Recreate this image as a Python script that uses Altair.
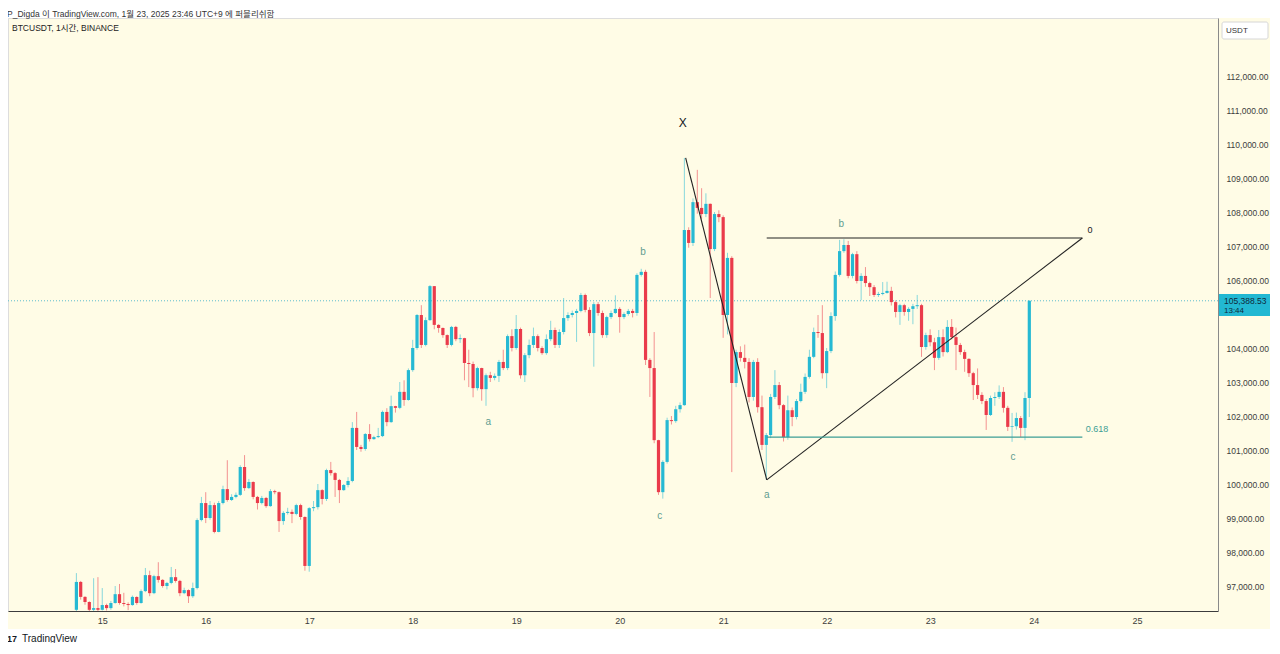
import altair as alt
import pandas as pd

# ---------------- data (BTCUSDT 1h, 14th 18:00 .. 23rd 23:00, UTC+9) ----------------
first_open = 96300
closes = [
    97120, 96680, 96530, 96300, 96350, 96300, 96440, 96350, 96500, 96760,
    96500, 96470, 96440, 96680, 96500, 96850, 97320, 96790, 97290, 97180,
    97000, 97090, 97260, 97150, 96790, 96880, 96700, 96940, 98940, 99440,
    99000, 99380, 98590, 99440, 99850, 99530, 99620, 99680, 100500, 99880,
    100060, 99620, 99440, 99590, 99350, 99790, 99760, 98910, 99150, 99180,
    99120, 99380, 99030, 97590, 99290, 99320, 99820, 99560, 100410, 100320,
    100120, 99820, 99970, 100090, 101650, 101090, 101030, 101470, 101320, 101380,
    101410, 102120, 101820, 102290, 102240, 102710, 102470, 103350, 104000, 104970,
    104090, 104820, 105820, 104680, 104590, 104380, 104090, 104620, 104260, 104290,
    103560, 103530, 102820, 103410, 102790, 103200, 103120, 103180, 103590, 103410,
    104350, 104000, 104560, 103200, 103790, 104090, 104350, 104000, 103850, 104260,
    104530, 104090, 104470, 104880, 104970, 105030, 105090, 105560, 105120, 104440,
    105290, 105030, 104380, 104910, 105030, 105150, 104910, 105000, 105090, 105030,
    106150, 106240, 103650, 103410, 101290, 99760, 100650, 101880, 101850, 102200,
    102320, 107470, 107090, 108290, 108120, 107940, 108240, 106910, 107940, 107850,
    104970, 106650, 102970, 103880, 103710, 103590, 102560, 103590, 102260, 101150,
    101440, 102560, 102910, 102320, 101380, 102170, 101970, 102440, 102710, 103150,
    103740, 104470, 104440, 103260, 103910, 104940, 106150, 106850, 107030, 106120,
    106760, 105970, 106120, 105910, 105790, 105560, 105590, 105620, 105680, 105350,
    105060, 105260, 105060, 105150, 105230, 105260, 104030, 104380, 104170, 103710,
    104320, 103880, 104620, 104320, 104090, 103880, 103680, 103260, 102910, 102620,
    102440, 102030, 102530, 102560, 102710, 102240, 101680, 101700, 101940, 101650,
    102530, 105390,
]
highs = [
    97380, 97150, 96700, 96550, 97230, 97260, 96940, 96480, 96560, 97000,
    97060, 96800, 96520, 96720, 96700, 96900, 97530, 97450, 97330, 97700,
    97200, 97120, 97560, 97500, 97180, 96950, 96900, 97100, 98990, 99620,
    99760, 99500, 99450, 99500, 99950, 100700, 99700, 99750, 100550, 100850,
    100150, 100080, 99650, 99650, 99620, 99850, 99830, 99780, 99200, 99300,
    99250, 99420, 99420, 99050, 99320, 99500, 100000, 99850, 100450, 100650,
    100350, 100150, 100000, 100200, 101820, 102120, 101150, 101500, 101760, 101420,
    101650, 102160, 102230, 102600, 102300, 103000, 103050, 103400, 104240, 105000,
    105260, 104900, 105850, 105820, 104700, 104600, 104400, 104650, 104650, 104400,
    104300, 103950, 103600, 103450, 103420, 103250, 103300, 103250, 103650, 103950,
    104400, 104550, 104970, 104600, 103850, 104250, 104600, 104400, 104050, 104400,
    104800, 104600, 104550, 105470, 105050, 105100, 105150, 105620, 105600, 105200,
    105350, 105350, 105100, 104950, 105100, 105550, 105200, 105050, 105150, 105150,
    106200, 106330, 106300, 103700, 104470, 101300, 100700, 101950, 102000, 102300,
    102400, 109590, 107550, 108400, 109240, 108700, 108550, 108250, 108000, 108050,
    107900, 106800, 106700, 103950, 104050, 104100, 103700, 103650, 103700, 102600,
    101500, 102650, 103350, 103000, 102350, 102600, 102250, 102500, 102950, 103250,
    103950, 104600, 104970, 105260, 104000, 105050, 106250, 107180, 107200, 107150,
    106800, 106850, 106200, 106380, 105950, 105850, 105650, 105940, 105950, 105800,
    105400, 105300, 105300, 105200, 105300, 105560, 105300, 104450, 104550, 104300,
    104530, 104550, 104820, 104850, 104600, 104150, 103950, 103700, 103300, 103400,
    102700, 102500, 102600, 102700, 102900, 102850, 102300, 102090, 102100, 102000,
    102700, 105400,
]
lows = [
    96250, 96600, 96450, 96250, 96250, 96250, 96280, 96280, 96300, 96480,
    96450, 96400, 96290, 96420, 96450, 96480, 96820, 96700, 96760, 97100,
    96950, 96900, 97050, 97100, 96700, 96760, 96500, 96650, 96900, 98900,
    98850, 98950, 98550, 98580, 99400, 99480, 99500, 99580, 99650, 99800,
    99850, 99550, 99250, 99400, 99300, 99330, 99700, 98590, 98800, 99100,
    98850, 99080, 98950, 97450, 97420, 99200, 99250, 99400, 99500, 100250,
    99620, 99440, 99800, 99900, 100050, 101000, 100950, 100980, 101250, 101300,
    101350, 101380, 101700, 101800, 102100, 102200, 102300, 102450, 103300, 103950,
    104000, 104050, 104800, 104550, 104450, 104300, 104000, 104050, 104200, 104150,
    103050, 102850, 102550, 102750, 102450, 102300, 103000, 103050, 103000, 103350,
    103350, 103900, 103950, 103100, 103000, 103700, 104000, 103900, 103800, 103800,
    104200, 104000, 104000, 104400, 104800, 104900, 104180, 105050, 105050, 104350,
    103450, 104950, 104300, 104300, 104850, 105000, 104450, 104850, 104950, 104900,
    104950, 106100, 103500, 102560, 101200, 99680, 99570, 100600, 101750, 101800,
    102100, 102300, 106950, 107000, 107950, 107800, 107850, 105470, 106850, 107700,
    104300, 104400, 100350, 102850, 103600, 103400, 102400, 102450, 102100, 101000,
    100120, 101350, 102500, 102200, 101250, 101300, 101700, 101900, 102400, 102650,
    103100, 103700, 104300, 103100, 102820, 103850, 104800, 106100, 106800, 106050,
    106050, 105900, 105410, 105800, 105530, 105500, 105500, 105550, 105600, 105250,
    104900, 104680, 104950, 104800, 104700, 105150, 103740, 103950, 104050, 103350,
    103650, 103750, 103850, 104250, 103350, 103800, 103300, 103150, 102470, 102500,
    102350, 101590, 102000, 102300, 102500, 102100, 101560, 101240, 101600, 101380,
    101290, 101970,
]
hours = list(range(-6, -6 + len(closes)))   # hours since Jan 15 00:00

# wave annotations (hour, price)
wave_text = ["X", "a", "b", "c", "a", "b", "c", "0", "0.618"]
wave_hours = [134.6, 89.5, 125.4, 129.3, 154.1, 171.4, 211.2, 229.1, 230.7]
wave_prices = [110620, 101820, 106820, 99060, 99680, 107650, 100790, 107470, 101620]
wave_colors = ["#131722", "#5f9c90", "#5f9c90", "#5f9c90", "#5f9c90", "#5f9c90",
               "#5f9c90", "#131722", "#3d9e95"]
wave_sizes = [12, 10, 10, 10, 10, 10, 10, 9, 9]

# drawn lines (start hour/price -> end hour/price)
seg_h1 = [135.3, 154.1, 154.1, 154.1]
seg_p1 = [109590, 100120, 107235, 101380]
seg_h2 = [154.1, 227.3, 227.3, 227.3]
seg_p2 = [100120, 107235, 107235, 101380]
seg_colors = ["#222222", "#222222", "#222222", "#3d9e95"]

last_price = 105388.53
# labels hidden in the original under the USDT box and the price tag are left out
y_ticks = [v for v in range(97000, 113000, 1000) if v != 105000]
day_ticks = list(range(0, 241, 24))

# ---------------- build ----------------
UP, DOWN = "#26b9d3", "#ea3b4b"
BG = "#fffce6"
FONT = "Liberation Sans, Noto Sans CJK KR, sans-serif"
W, H = 1210, 593

opens = [first_open] + closes[:-1]
df = pd.DataFrame({"h": hours, "open": opens, "close": closes, "high": highs, "low": lows})
df["high"] = df[["high", "open", "close"]].max(axis=1)
df["low"] = df[["low", "open", "close"]].min(axis=1)
df["col"] = [UP if c >= o else DOWN for o, c in zip(df["open"], df["close"])]

xscale = alt.Scale(domain=[-20.7, 257.6], nice=False, zero=False)
yscale = alt.Scale(domain=[96265, 113706], nice=False, zero=False)
xaxis = alt.Axis(values=day_ticks, labelExpr="'' + (15 + datum.value / 24)", title=None,
                 grid=False, ticks=False, domainColor="#3c3c3c", labelColor="#3c3c3c",
                 labelFontSize=9, labelPadding=5, labelFont=FONT)
yaxis = alt.Axis(orient="right", values=y_ticks, format=",.2f", title=None, grid=False,
                 ticks=False, domainColor="#8a8a8a", labelColor="#3c3c3c", labelFontSize=8.5,
                 labelPadding=8, labelAlign="left", labelFont=FONT)


def X(f):
    return alt.X(f, type="quantitative", scale=xscale, axis=xaxis)


def Y(f):
    return alt.Y(f, type="quantitative", scale=yscale, axis=yaxis)


one = pd.DataFrame({"k": [0]})

header_bg = alt.Chart(one).mark_rect(color="white", clip=False).encode(
    x=alt.value(-8), x2=alt.value(W + 60), y=alt.value(-10), y2=alt.value(0))
footer_bg = alt.Chart(one).mark_rect(color="white", clip=False).encode(
    x=alt.value(-8), x2=alt.value(W + 60), y=alt.value(611), y2=alt.value(640))

price_line = alt.Chart(one).mark_rule(strokeDash=[1, 2], color="#5cbccd", strokeWidth=1).encode(
    y=alt.datum(last_price, type="quantitative", scale=yscale, axis=yaxis))

wicks = alt.Chart(df).mark_rule(strokeWidth=1, opacity=0.55, clip=True).encode(
    x=X("h"), y=Y("low"), y2="high", color=alt.Color("col:N", scale=None))
bodies = alt.Chart(df).mark_bar(size=3.2, clip=True).encode(
    x=X("h"), y=Y("open"), y2="close", color=alt.Color("col:N", scale=None))

seg_df = pd.DataFrame({"h1": seg_h1, "p1": seg_p1, "h2": seg_h2, "p2": seg_p2, "col": seg_colors})
segments = alt.Chart(seg_df).mark_rule(strokeWidth=1.1).encode(
    x=X("h1"), y=Y("p1"), x2="h2", y2="p2", color=alt.Color("col:N", scale=None))

wave_df = pd.DataFrame({"h": wave_hours, "p": wave_prices, "t": wave_text,
                        "col": wave_colors, "s": wave_sizes})
waves = alt.Chart(wave_df).mark_text(font=FONT, align="center", baseline="middle").encode(
    x=X("h"), y=Y("p"), text="t:N", color=alt.Color("col:N", scale=None),
    size=alt.Size("s:Q", scale=None))

header = alt.Chart(one).mark_text(
    text="P_Digda 이 TradingView.com, 1월 23, 2025 23:46 UTC+9 에 퍼블리쉬함",
    font=FONT, fontSize=8.5, color="#333333", align="left", baseline="middle", clip=False
).encode(x=alt.value(-1), y=alt.value(-4.5))
symbol = alt.Chart(one).mark_text(
    text="BTCUSDT, 1시간, BINANCE", font=FONT, fontSize=8.5, color="#222222",
    align="left", baseline="middle").encode(x=alt.value(4), y=alt.value(10))

usdt_box = alt.Chart(one).mark_rect(fill="white", stroke="#d6d6d6", strokeWidth=1, clip=False,
                                    cornerRadius=2).encode(
    x=alt.value(W + 4), x2=alt.value(W + 50), y=alt.value(4), y2=alt.value(21))
usdt_txt = alt.Chart(one).mark_text(text="USDT", font=FONT, fontSize=8, color="#333333",
                                    align="left", baseline="middle", clip=False).encode(
    x=alt.value(W + 8), y=alt.value(12.5))

tag_box = alt.Chart(one).mark_rect(fill="#22b8d2", clip=False).encode(
    x=alt.value(W + 1), x2=alt.value(W + 53), y=alt.value(276), y2=alt.value(298))
tag_txt = alt.Chart(one).mark_text(text="105,388.53", font=FONT, fontSize=8.5, color="#0f2a3a",
                                   align="left", baseline="middle", clip=False).encode(
    x=alt.value(W + 6), y=alt.value(282.5))
tag_time = alt.Chart(one).mark_text(text="13:44", font=FONT, fontSize=8, color="#0f2a3a",
                                    align="left", baseline="middle", clip=False).encode(
    x=alt.value(W + 6), y=alt.value(293))

logo = alt.Chart(one).mark_text(text="17", font=FONT, fontSize=9, fontWeight="bold",
                                color="#131722", align="left", baseline="middle",
                                clip=False).encode(x=alt.value(-1), y=alt.value(621))
footer = alt.Chart(one).mark_text(text="TradingView", font=FONT, fontSize=10,
                                  color="#131722", align="left", baseline="middle",
                                  clip=False).encode(x=alt.value(14), y=alt.value(621))

chart = alt.layer(
    header_bg, footer_bg, price_line, wicks, bodies, segments, waves,
    header, symbol, usdt_box, usdt_txt, tag_box, tag_txt, tag_time, logo, footer
).properties(
    width=W, height=H,
    autosize=alt.AutoSizeParams(type="none"),
    padding={"left": 0, "top": 10, "right": 52, "bottom": 32},
    background=BG,
).configure_view(fill=BG, stroke=None).configure(font=FONT)

chart.save("out.html", embed_options={"renderer": "svg", "actions": False})
